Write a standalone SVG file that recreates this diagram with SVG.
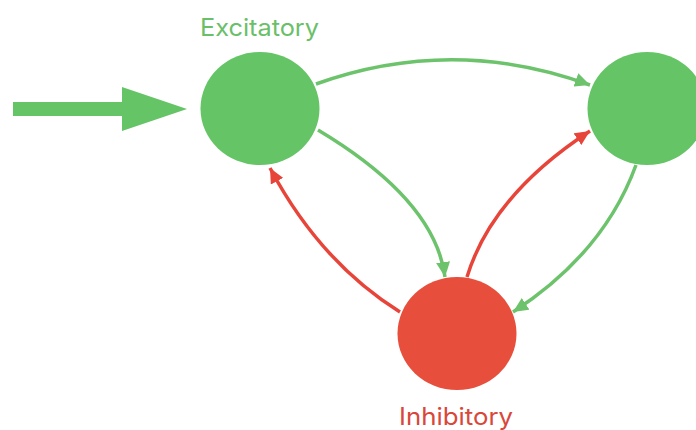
<svg xmlns="http://www.w3.org/2000/svg" width="696" height="430" viewBox="0 0 696 430">
<style>
.g{fill:#64c466}
.r{fill:#e84e3c}
.lg{fill:none;stroke:#6cc36b;stroke-width:3.5}
.lr{fill:none;stroke:#e8453a;stroke-width:3.5}
.t{font-family:Inter,"Liberation Sans",sans-serif;font-size:24px}
</style>
<defs>
<marker id="ag" markerUnits="userSpaceOnUse" markerWidth="16" markerHeight="14" refX="15" refY="7" orient="auto"><path d="M0,0 L15,7 L0,14 Z" fill="#6cc36b"/></marker>
<marker id="ar" markerUnits="userSpaceOnUse" markerWidth="16" markerHeight="14" refX="15" refY="7" orient="auto"><path d="M0,0 L15,7 L0,14 Z" fill="#e8453a"/></marker>
</defs>
<rect width="696" height="430" fill="#fff"/>
<g id="input">
<rect x="13" y="102" width="110" height="14" class="g"/>
<path d="M122,87 L187,109 L122,131 Z" class="g"/>
</g>
<g id="connectors">
<path d="M316,84 Q453,35 590,85" class="lg" marker-end="url(#ag)"/>
<path d="M318,130 Q435,200 445,277" class="lg" marker-end="url(#ag)"/>
<path d="M400,312 Q320,262 270,168" class="lr" marker-end="url(#ar)"/>
<path d="M467,277 Q492,195 590,131" class="lr" marker-end="url(#ar)"/>
<path d="M636,165 Q604,253 513,312" class="lg" marker-end="url(#ag)"/>
</g>
<g id="excitatory1">
<ellipse cx="260" cy="108.5" rx="59.5" ry="56.5" class="g"/>
<text x="259.5" y="36" text-anchor="middle" class="t" fill="#6abf69" textLength="119" lengthAdjust="spacingAndGlyphs">Excitatory</text>
</g>
<g id="excitatory2">
<ellipse cx="647" cy="108.5" rx="59.5" ry="56.5" class="g"/>
</g>
<g id="inhibitory">
<ellipse cx="457" cy="333.5" rx="59.5" ry="56.5" class="r"/>
<text x="456" y="425" text-anchor="middle" class="t" fill="#d9473b" textLength="114" lengthAdjust="spacingAndGlyphs">Inhibitory</text>
</g>
</svg>
